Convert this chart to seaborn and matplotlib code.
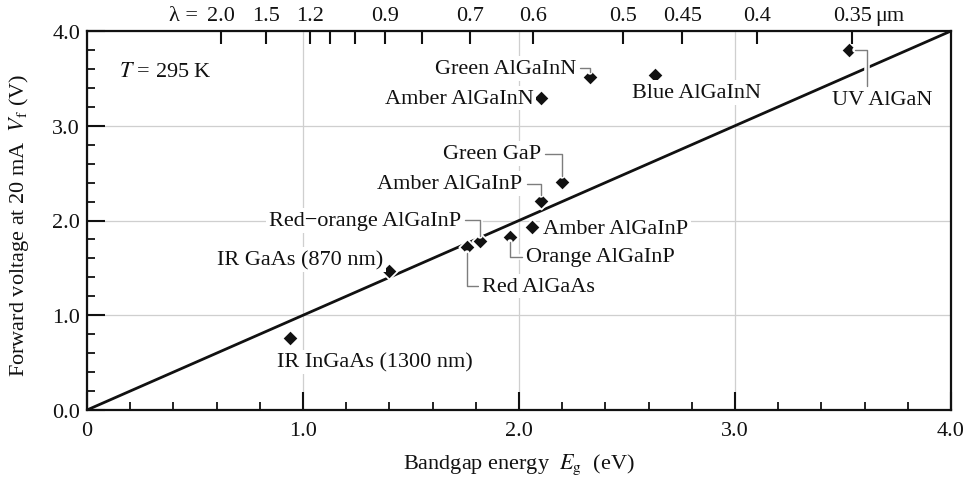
import numpy as np
import pandas as pd
import matplotlib
matplotlib.use("Agg")
import matplotlib.pyplot as plt
import matplotlib.patheffects as pe
from matplotlib.ticker import MultipleLocator
import seaborn as sns

# LED forward voltage vs bandgap energy
devices = ["IR InGaAs (1300 nm)", "IR GaAs (870 nm)", "Red AlGaAs",
           "Red\u2212orange AlGaInP", "Orange AlGaInP", "Amber AlGaInP",
           "Amber AlGaInP", "Green GaP", "Amber AlGaInN", "Green AlGaInN",
           "Blue AlGaInN", "UV AlGaN"]
bandgap = [0.94, 1.40, 1.76, 1.82, 1.96, 2.06, 2.10, 2.20, 2.10, 2.33, 2.63, 3.53]
vf = [0.76, 1.47, 1.72, 1.78, 1.83, 1.93, 2.21, 2.41, 3.29, 3.51, 3.54, 3.80]

# reference line Vf = Eg / e
ref_line = [0.0, 4.0]

# top axis: wavelength in um
wl_ticks = [2.0, 1.5, 1.2, 1.1, 1.0, 0.9, 0.8, 0.7, 0.6, 0.5, 0.45, 0.4, 0.35]
wl_labels = ["2.0", "1.5", "1.2", "", "", "0.9", "", "0.7", "0.6", "0.5", "0.45", "0.4", "0.35"]

x_ticks = [0, 1, 2, 3, 4]
x_ticklabels = ["0", "1.0", "2.0", "3.0", "4.0"]
y_ticks = [0, 1, 2, 3, 4]
y_ticklabels = ["0.0", "1.0", "2.0", "3.0", "4.0"]

# label placement: offset in pixels (dx, dy), alignment, leader type
placement = [
    (85, -24, "center", None),
    (-6, 11, "right", None),
    (15, -39, "left", "elbow"),
    (-19, 21, "right", "elbow"),
    (16, -20, "left", "elbow"),
    (11, -1, "left", None),
    (-18, 17, "right", "elbow"),
    (-21, 28, "right", "elbow"),
    (-7, 0, "right", None),
    (-14, 9, "right", "elbow"),
    (41, -18, "center", None),
    (33, -50, "center", "uv"),
]

sns.set_style("ticks")
plt.rcParams["font.family"] = ["Liberation Serif", "DejaVu Serif"]
plt.rcParams["mathtext.fontset"] = "stix"
ink = "#111111"
fs = 16

df = pd.DataFrame({"device": devices, "Eg": bandgap, "Vf": vf})

fig = plt.figure(figsize=(9.64, 4.81), dpi=100)
ax = fig.add_axes([87 / 964, 1 - 411 / 481, 864 / 964, 379 / 481])

sns.lineplot(x=ref_line, y=ref_line, ax=ax, color=ink, lw=2.0, zorder=2)
sns.scatterplot(data=df, x="Eg", y="Vf", ax=ax, marker="D", s=68, color=ink,
                edgecolor="white", linewidth=1.3, zorder=4)

ax.set_xlim(0, 4)
ax.set_ylim(0, 4)
ax.set_xticks(x_ticks, x_ticklabels)
ax.set_yticks(y_ticks, y_ticklabels)
ax.xaxis.set_minor_locator(MultipleLocator(0.2))
ax.yaxis.set_minor_locator(MultipleLocator(0.2))
ax.tick_params(which="major", direction="in", length=13, width=1.5,
               labelsize=fs, colors=ink, top=False, right=False)
ax.tick_params(axis="x", which="major", pad=8)
ax.tick_params(axis="y", which="major", pad=5)
ax.tick_params(which="minor", direction="in", length=6, width=1.3,
               colors=ink, top=False, right=False)
ax.grid(True, which="major", color="#cfcfcf", lw=0.9)
ax.set_axisbelow(True)
for s in ax.spines.values():
    s.set_linewidth(1.6)
    s.set_color(ink)

ax.set_xlabel(r"Bandgap energy  $E_\mathrm{g}$  (eV)", fontsize=fs, color=ink, labelpad=8)
ax.set_ylabel(r"Forward voltage at 20 mA  $V_\mathrm{f}$ (V)", fontsize=fs, color=ink)
ax.yaxis.set_label_coords(-0.065, 0.49)

# top wavelength axis
ax2 = ax.twiny()
ax2.set_xlim(ax.get_xlim())
wl_pos = 1.24 / np.array(wl_ticks)
ax2.set_xticks(wl_pos, wl_labels)
ax2.tick_params(direction="in", length=9, width=1.5, labelsize=fs, colors=ink, pad=4)
for s in ax2.spines.values():
    s.set_visible(False)
ax2.annotate("\u03bb =", xy=(wl_pos[0], 1), xycoords=("data", "axes fraction"),
             xytext=(-23, 5.6), textcoords="offset pixels", ha="right", va="bottom",
             fontsize=fs, color=ink)
ax2.annotate("\u03bcm", xy=(wl_pos[-1], 1), xycoords=("data", "axes fraction"),
             xytext=(23, 5.6), textcoords="offset pixels", ha="left", va="bottom",
             fontsize=fs, color=ink)

# point labels
box = dict(boxstyle="square,pad=0.12", fc="white", ec="none")
halo = [pe.Stroke(linewidth=4, foreground="white"), pe.Normal()]
for name, x, y, (dx, dy, ha, leader) in zip(devices, bandgap, vf, placement):
    kw = {}
    if leader == "elbow":
        rel = (1, 0.5) if ha == "right" else (0, 0.5)
        kw["arrowprops"] = dict(arrowstyle="-", color="#7d7d7d", lw=1.0,
                                shrinkA=1, shrinkB=4, relpos=rel,
                                connectionstyle="angle,angleA=0,angleB=90,rad=0")
    elif leader == "uv":
        kw["arrowprops"] = dict(arrowstyle="-", color="#7d7d7d", lw=1.0,
                                shrinkA=1, shrinkB=4, relpos=(0.35, 1),
                                connectionstyle="angle,angleA=90,angleB=0,rad=0")
    ann = ax.annotate(name, xy=(x, y), xytext=(dx, dy), textcoords="offset pixels",
                      ha=ha, va="center", fontsize=fs, color=ink, bbox=box,
                      zorder=5, **kw)
    if ann.arrow_patch is not None:
        ann.arrow_patch.set_path_effects(halo)

ax.text(0.037, 0.894, r"$T$ = 295 K", transform=ax.transAxes, ha="left",
        va="center", fontsize=fs, color=ink)

fig.savefig("out.png", dpi=100)
